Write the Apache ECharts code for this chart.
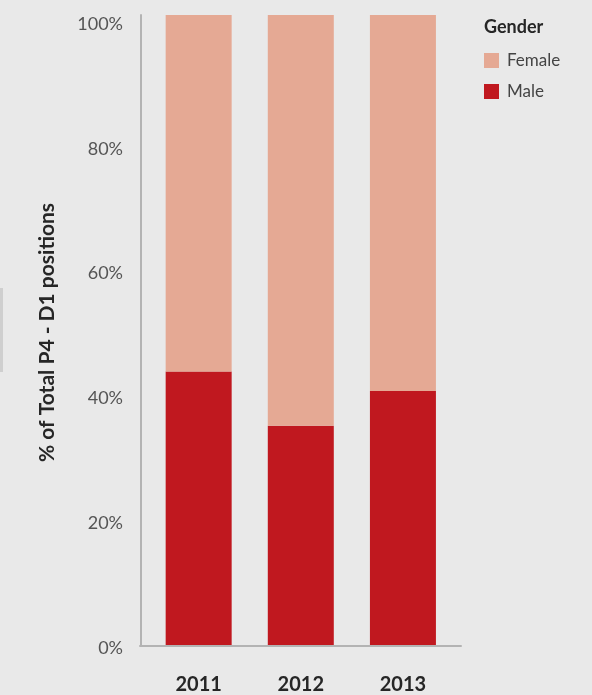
<!DOCTYPE html>
<html>
<head>
<meta charset="utf-8">
<script src="https://cdn.jsdelivr.net/npm/echarts@6/dist/echarts.min.js"></script>
<style>
html,body{margin:0;padding:0;background:#e9e9e9;}
#chart{width:592px;height:695px;}
</style>
</head>
<body>
<div id="chart"></div>
<script>
var years = ['2011', '2012', '2013'];
var maleValues = [43.4, 34.8, 40.3];
var femaleValues = [56.6, 65.2, 59.7];
var yTickValues = [0, 20, 40, 60, 80, 100];

var chart = echarts.init(document.getElementById('chart'), null, {renderer: 'canvas'});
var font = 'Lato, "Open Sans", sans-serif';
var option = {
  backgroundColor: '#e9e9e9',
  animation: false,
  textStyle: {fontFamily: font},
  title: {
    text: 'Gender', left: 479, top: 13,
    textStyle: {fontFamily: font, fontSize: 18, fontWeight: 'bold', color: '#262626'}
  },
  legend: {
    orient: 'vertical', left: 479, top: 47,
    data: ['Female', 'Male'],
    itemWidth: 15, itemHeight: 15, itemGap: 14,
    icon: 'rect',
    textStyle: {fontFamily: font, fontSize: 17, color: '#444', padding: [0, 0, 0, 3]}
  },
  graphic: [{type: 'rect', left: 0, top: 288, shape: {width: 3, height: 84}, style: {fill: '#cfcfcf'}}],
  grid: [
    {left: 147.6, right: 138, top: 15, bottom: 49},
    {left: 140, right: 131, top: 15, bottom: 49},
    {left: 140, right: 131, top: 17, bottom: 47}
  ],
  xAxis: [
    {
      type: 'category', data: years, gridIndex: 0,
      axisLine: {show: false}, axisTick: {show: false},
      axisLabel: {margin: 30, fontFamily: font, fontSize: 20, fontWeight: 'bold', color: '#262626'}
    },
    {
      type: 'value', gridIndex: 1, min: 0, max: 1,
      axisLine: {show: true, lineStyle: {color: '#b3b3b3', width: 2}},
      axisTick: {show: false}, axisLabel: {show: false}, splitLine: {show: false}
    },
    {type: 'value', gridIndex: 2, min: 0, max: 1, show: false}
  ],
  yAxis: [
    {
      type: 'value', gridIndex: 0, min: 0, max: 100, offset: 7,
      axisLine: {show: true, lineStyle: {color: '#b3b3b3', width: 2}},
      axisTick: {show: false}, splitLine: {show: false}, axisLabel: {show: false}
    },
    {type: 'value', gridIndex: 1, show: false},
    {
      type: 'value', gridIndex: 2, min: 0, max: 101.1, interval: 20,
      axisLine: {show: false}, axisTick: {show: false}, splitLine: {show: false},
      axisLabel: {
        margin: 17, fontFamily: font, fontSize: 18, color: '#555',
        formatter: function (v) { return yTickValues.indexOf(v) >= 0 ? v + '%' : ''; }
      },
      name: '% of Total P4 - D1 positions', nameLocation: 'middle', nameRotate: 90, nameGap: 82,
      nameTextStyle: {fontFamily: font, fontSize: 21, fontWeight: 'bold', color: '#262626'}
    }
  ],
  series: [
    {name: 'Male', type: 'bar', stack: 'g', data: maleValues, barWidth: 66,
     xAxisIndex: 0, yAxisIndex: 0, itemStyle: {color: '#c0181f'}},
    {name: 'Female', type: 'bar', stack: 'g', data: femaleValues, barWidth: 66,
     xAxisIndex: 0, yAxisIndex: 0, itemStyle: {color: '#e5a994'}}
  ]
};
chart.setOption(option);
</script>
</body>
</html>
